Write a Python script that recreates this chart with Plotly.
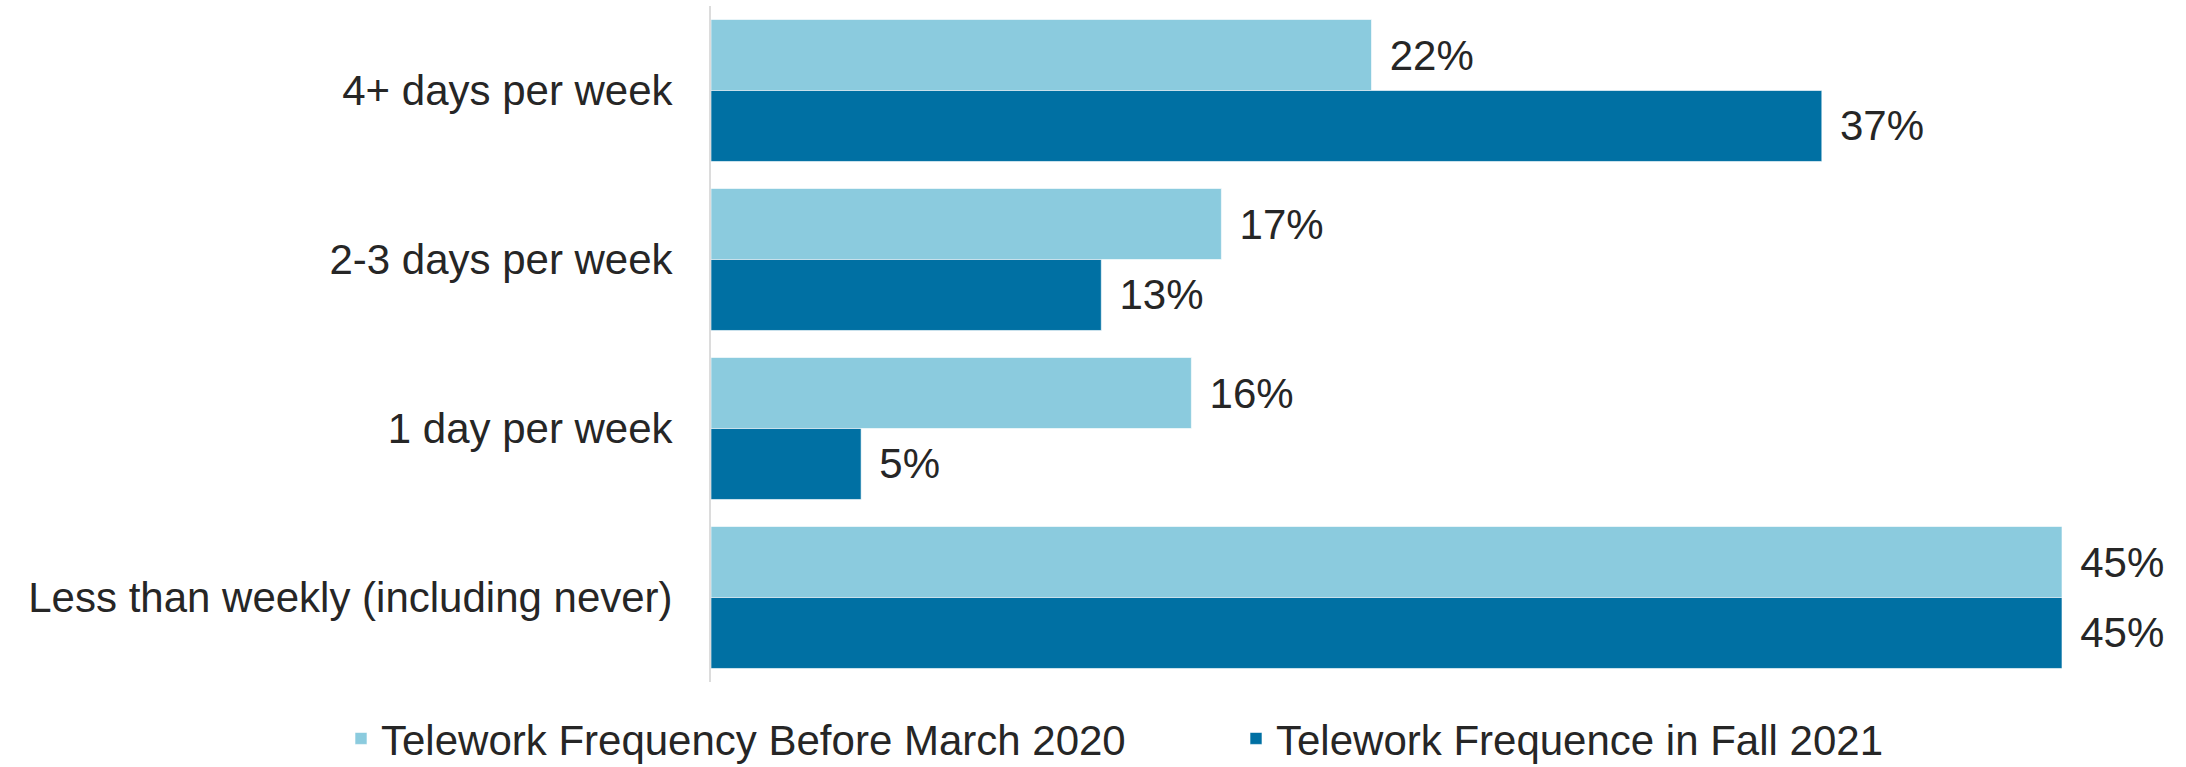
import plotly.graph_objects as go

categories = ["4+ days per week", "2-3 days per week", "1 day per week",
              "Less than weekly (including never)"]
before_2020 = [22, 17, 16, 45]
fall_2021 = [37, 13, 5, 45]
series_names = ["Telework Frequency Before March 2020", "Telework Frequence in Fall 2021"]
colors = ["#8BCBDE", "#0070A3"]

FONT = "Liberation Sans, Arial, sans-serif"
TXT = "#262626"

fig = go.Figure()
for i, (name, vals, col) in enumerate(zip(series_names, [before_2020, fall_2021], colors)):
    fig.add_trace(go.Bar(
        y=categories, x=vals, name=name, orientation="h",
        marker=dict(color=col, line=dict(color="rgba(255,255,255,0.6)", width=1)),
        texttemplate="\u00a0\u200a%{x}%", textposition="outside",
        textfont=dict(family=FONT, size=42, color=TXT),
        cliponaxis=False, constraintext="none", hoverinfo="skip",
        legend="legend" if i == 0 else "legend2",
    ))

leg_common = dict(orientation="h", xref="container", yref="container",
                  xanchor="left", y=0.037, yanchor="middle",
                  font=dict(family=FONT, size=42, color=TXT),
                  bgcolor="rgba(0,0,0,0)")

fig.update_layout(
    width=2186, height=767,
    margin=dict(l=711, r=124, t=6, b=85),
    barmode="group", bargap=0.16, bargroupgap=0,
    plot_bgcolor="white", paper_bgcolor="white",
    font=dict(family=FONT, size=42, color=TXT),
    xaxis=dict(range=[0, 45], visible=False, showgrid=False, zeroline=False),
    yaxis=dict(autorange="reversed", showline=True, linecolor="#dcdcdc", linewidth=2,
               ticks="", ticklabelstandoff=28, showgrid=False,
               tickfont=dict(family=FONT, size=42, color=TXT)),
    legend=dict(x=341 / 2186, **leg_common),
    legend2=dict(x=1236 / 2186, **leg_common),
    showlegend=True,
)

fig.write_html("out.html")
